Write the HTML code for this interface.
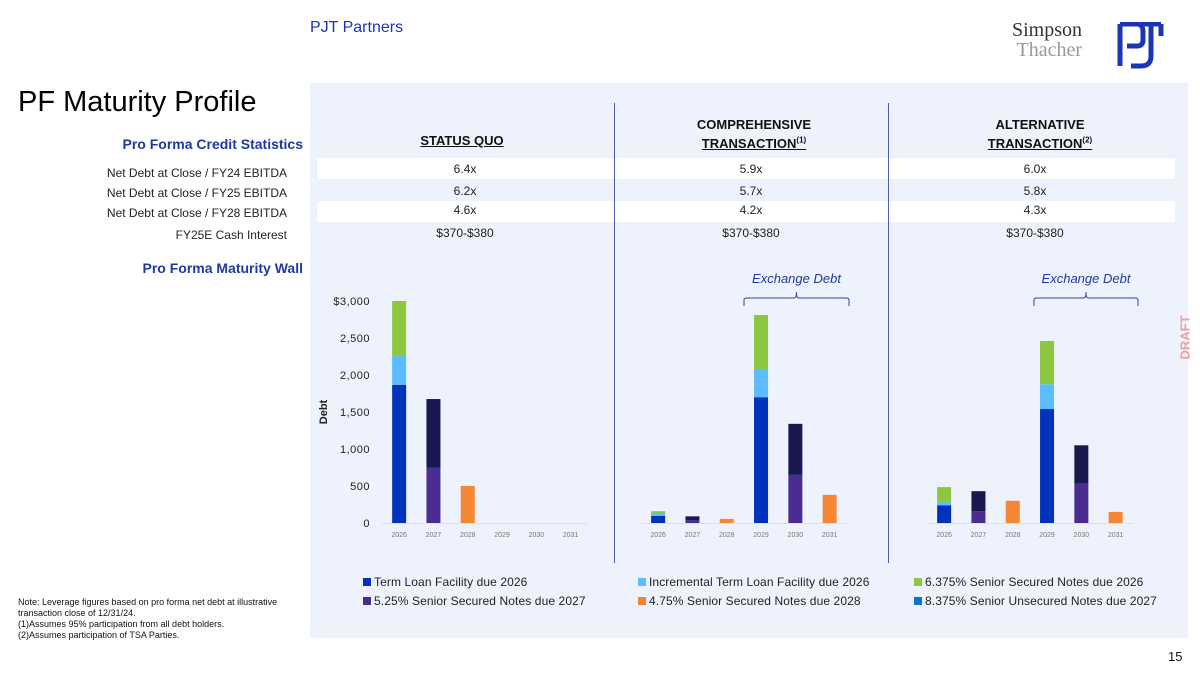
<!DOCTYPE html>
<html><head><meta charset="utf-8"><style>
body{margin:0;width:1200px;height:673px;background:#fff;font-family:"Liberation Sans",sans-serif;position:relative;overflow:hidden}
.a{position:absolute;white-space:nowrap}
.lab{font-size:12px;color:#222;text-align:right;right:913px}
.val{font-size:12px;color:#222;text-align:center;width:200px}
.hd{font-size:13px;font-weight:bold;color:#111;text-align:center;width:260px;line-height:16px}
.blue{color:#1f3a9e;font-weight:bold;font-size:14px}
.leg{font-size:12px;color:#222;letter-spacing:0.1px}
.leg i{display:inline-block;width:8px;height:8px;margin-right:3px;vertical-align:0px}
</style></head><body>
<div class="a" style="left:310px;top:19px;font-size:16px;color:#1b35b5">PJT Partners</div>
<div class="a" style="left:1012px;top:20px;font-family:'Liberation Serif',serif;font-size:20px;line-height:20px;color:#333;text-align:right">Simpson<br><span style="color:#999">Thacher</span></div>
<svg class="a" style="left:1117px;top:22px" width="48" height="48"><path d="M3 2 V44 M3 2 H20 Q26 2 26 10 V18 Q26 24 20 24 H10 M24 2 H44 M44 2 V14 M34 2 V34 Q34 44 24 44 H14" stroke="#1b35b5" stroke-width="5" fill="none"/></svg>
<div class="a" style="left:18px;top:86px;font-size:29px;color:#000">PF Maturity Profile</div>
<div class="a" style="left:310px;top:83px;width:878px;height:555px;background:#eef2fc"></div>
<div class="a" style="left:317px;top:158px;width:858px;height:21px;background:#fff"></div>
<div class="a" style="left:317px;top:201px;width:858px;height:21px;background:#fff"></div>
<div class="a" style="left:614px;top:103px;width:1px;height:460px;background:#4a63a8"></div>
<div class="a" style="left:888px;top:103px;width:1px;height:460px;background:#4a63a8"></div>
<div class="a blue" style="right:897px;top:136px">Pro Forma Credit Statistics</div>
<div class="a blue" style="right:897px;top:260px">Pro Forma Maturity Wall</div>
<div class="a lab" style="top:166px">Net Debt at Close / FY24 EBITDA</div>
<div class="a lab" style="top:186px">Net Debt at Close / FY25 EBITDA</div>
<div class="a lab" style="top:206px">Net Debt at Close / FY28 EBITDA</div>
<div class="a lab" style="top:228px">FY25E Cash Interest</div>
<div class="a hd" style="left:332px;top:133px;text-decoration:underline">STATUS QUO</div>
<div class="a hd" style="left:624px;top:117px">COMPREHENSIVE<br><u>TRANSACTION<sup style="font-size:8px">(1)</sup></u></div>
<div class="a hd" style="left:910px;top:117px">ALTERNATIVE<br><u>TRANSACTION<sup style="font-size:8px">(2)</sup></u></div>
<div class="a val" style="left:365px;top:162px">6.4x</div>
<div class="a val" style="left:365px;top:184px">6.2x</div>
<div class="a val" style="left:365px;top:203px">4.6x</div>
<div class="a val" style="left:365px;top:226px">$370-$380</div>
<div class="a val" style="left:651px;top:162px">5.9x</div>
<div class="a val" style="left:651px;top:184px">5.7x</div>
<div class="a val" style="left:651px;top:203px">4.2x</div>
<div class="a val" style="left:651px;top:226px">$370-$380</div>
<div class="a val" style="left:935px;top:162px">6.0x</div>
<div class="a val" style="left:935px;top:184px">5.8x</div>
<div class="a val" style="left:935px;top:203px">4.3x</div>
<div class="a val" style="left:935px;top:226px">$370-$380</div>
<div class="a" style="left:1163px;top:330px;transform:rotate(-90deg);font-size:13px;font-weight:bold;color:#f0a0a0">DRAFT</div>
<svg class="a" id="chart" style="left:0;top:0" width="1200" height="673"></svg>
<div class="a leg" style="left:363px;top:575px"><i style="background:#0033bb"></i>Term Loan Facility due 2026</div>
<div class="a leg" style="left:638px;top:575px"><i style="background:#5bbcff"></i>Incremental Term Loan Facility due 2026</div>
<div class="a leg" style="left:914px;top:575px"><i style="background:#8dc63f"></i>6.375% Senior Secured Notes due 2026</div>
<div class="a leg" style="left:363px;top:594px"><i style="background:#4b2d91"></i>5.25% Senior Secured Notes due 2027</div>
<div class="a leg" style="left:638px;top:594px"><i style="background:#f58633"></i>4.75% Senior Secured Notes due 2028</div>
<div class="a leg" style="left:914px;top:594px"><i style="background:#0b72d6"></i>8.375% Senior Unsecured Notes due 2027</div>
<div class="a" style="left:18px;top:597px;font-size:9px;line-height:11px;color:#111">Note: Leverage figures based on pro forma net debt at illustrative<br>transaction close of 12/31/24.<br>(1)Assumes 95% participation from all debt holders.<br>(2)Assumes participation of TSA Parties.</div>
<div class="a" style="left:1168px;top:649px;font-size:13px;color:#111">15</div>
<script>
const years=["2026","2027","2028","2029","2030","2031"];
const yTicks=[0,500,1000,1500,2000,2500,3000];
const yTickLabels=["0","500","1,000","1,500","2,000","2,500","$3,000"];
const seriesColors=["#0033bb","#5bbcff","#8dc63f","#4b2d91","#1a1850","#f58633"];
// series order: term loan, incremental TL, 6.375%, 5.25%, 8.375% unsecured, 4.75%
const sqTermLoan=[1865,0,0,0,0,0];
const sqIncremental=[390,0,0,0,0,0];
const sq6375=[745,0,0,0,0,0];
const sq525=[0,745,0,0,0,0];
const sq8375=[0,930,0,0,0,0];
const sq475=[0,0,500,0,0,0];
const ctTermLoan=[95,0,0,1700,0,0];
const ctIncremental=[40,0,0,380,0,0];
const ct6375=[25,0,0,730,0,0];
const ct525=[0,40,0,0,650,0];
const ct8375=[0,50,0,0,690,0];
const ct475=[0,0,55,0,0,380];
const atTermLoan=[240,0,0,1540,0,0];
const atIncremental=[40,0,0,335,0,0];
const at6375=[205,0,0,585,0,0];
const at525=[0,160,0,0,530,0];
const at8375=[0,270,0,0,520,0];
const at475=[0,0,300,0,0,150];
const panels=[
 {name:"status-quo",x0:382,step:34.3,s:[sqTermLoan,sqIncremental,sq6375,sq525,sq8375,sq475]},
 {name:"comprehensive",x0:641,step:34.3,s:[ctTermLoan,ctIncremental,ct6375,ct525,ct8375,ct475]},
 {name:"alternative",x0:927,step:34.3,s:[atTermLoan,atIncremental,at6375,at525,at8375,at475]}];
const svg=document.getElementById('chart');const NS="http://www.w3.org/2000/svg";
const y0=523,pxPer=222/3000;
function yScale(v){return y0-v*pxPer;}
function mk(t,a){const e=document.createElementNS(NS,t);for(const k in a)e.setAttribute(k,a[k]);svg.appendChild(e);return e;}
yTicks.forEach((v,i)=>{const t=mk('text',{x:370,y:yScale(v)+4,'text-anchor':'end','font-size':11,'letter-spacing':0.5,fill:'#222','font-family':'Liberation Sans'});t.textContent=yTickLabels[i];

});
const yt=mk('text',{x:0,y:0,transform:'translate(327,412) rotate(-90)','text-anchor':'middle','font-size':11,'font-weight':'bold',fill:'#222','font-family':'Liberation Sans'});yt.textContent="Debt";


panels.forEach(p=>{
 const ax=mk('line',{x1:p.x0,x2:p.x0+p.step*6,y1:y0+0.5,y2:y0+0.5,stroke:'#dde0ea','stroke-width':1});
 
 
 years.forEach((yr,i)=>{const cx=p.x0+p.step*(i+0.5);let acc=0;
  p.s.forEach((ser,k)=>{const v=ser[i];if(v>0){const r=mk('rect',{x:cx-7,y:yScale(acc+v),width:14,height:v*pxPer,fill:seriesColors[k]});
   
   acc+=v;}});
  const t=mk('text',{x:cx,y:y0+14,'text-anchor':'middle','font-size':7,fill:'#777','font-family':'Liberation Sans'});t.textContent=yr;
  
  });
});
[[744,849],[1034,1138]].forEach((b,i)=>{const m=(b[0]+b[1])/2;
 const pth=mk('path',{d:`M${b[0]} 306 V300 Q${b[0]} 298 ${b[0]+3} 298 H${m-2} Q${m} 298 ${m} 292 Q${m} 298 ${m+2} 298 H${b[1]-3} Q${b[1]} 298 ${b[1]} 300 V306`,fill:'none',stroke:'#2d4a9a','stroke-width':1});
 
 
 const t=mk('text',{x:m,y:283,'text-anchor':'middle','font-size':13,'font-style':'italic',fill:'#1f3a9e','font-family':'Liberation Sans'});t.textContent="Exchange Debt";
 
 });
</script>
</body></html>
